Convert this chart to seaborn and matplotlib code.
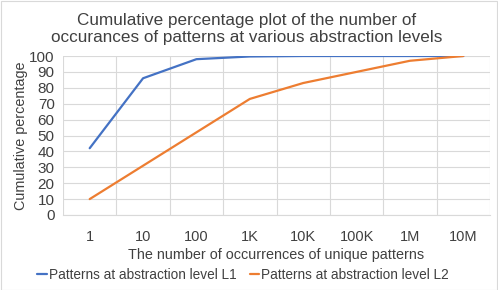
import matplotlib
matplotlib.use("Agg")
import matplotlib.pyplot as plt
import seaborn as sns
import pandas as pd
import numpy as np
from matplotlib.patches import Rectangle
from matplotlib.lines import Line2D

categories = ["1", "10", "100", "1K", "10K", "100K", "1M", "10M"]
l1_values = [42, 86, 98, 99.7, 100, 100, 100, 100]
l2_values = [10, 31, 52, 73, 83, 90, 97, 100]
series_names = ["Patterns at abstraction level L1", "Patterns at abstraction level L2"]
y_ticks = list(range(0, 101, 10))

df = pd.DataFrame({
    "pos": list(range(len(categories))) * 2,
    "value": l1_values + l2_values,
    "series": [series_names[0]] * len(categories) + [series_names[1]] * len(categories),
})

sns.set_style("white")
plt.rcParams['font.family'] = ['Liberation Sans', 'DejaVu Sans']

fig = plt.figure(figsize=(4.98, 2.90), dpi=100)
ax = fig.add_axes([63/498, 1 - 215/290, (490 - 63)/498, (215 - 56)/290])

sns.lineplot(data=df, x="pos", y="value", hue="series",
             palette=["#4472C4", "#ED7D31"], linewidth=1.6, ax=ax, legend=False,
             sort=False)

n = len(categories)
ax.set_xlim(-0.5, n - 0.5)
ax.set_ylim(0, 100)
ax.set_xticks(range(n))
ax.set_xticklabels(categories, fontsize=10.5, color="#404040")
ax.set_xticks(np.arange(-0.5, n, 1.0), minor=True)
ax.set_yticks(y_ticks)
ax.set_yticklabels([str(v) for v in y_ticks], fontsize=11, color="#404040")
ax.tick_params(axis="x", which="major", length=0, pad=11)
ax.tick_params(axis="x", which="minor", length=5, color="#d9d9d9", width=0.8)
ax.tick_params(axis="y", length=0, pad=6)
ax.grid(axis="y", which="major", color="#d9d9d9", linewidth=0.8)
ax.grid(axis="x", which="minor", color="#d9d9d9", linewidth=0.8)
ax.grid(axis="x", which="major", visible=False)
ax.set_axisbelow(True)
for s in ["top", "right", "left"]:
    ax.spines[s].set_visible(False)
ax.spines["bottom"].set_color("#d9d9d9")
ax.spines["bottom"].set_linewidth(0.8)

ax.set_xlabel("The number of occurrences of unique patterns", fontsize=10.4, color="#404040", labelpad=3)
ax.set_ylabel("Cumulative percentage", fontsize=10.4, color="#404040", labelpad=1)

fig.text(0.495, 1 - 29/290, "Cumulative percentage plot of the number of\noccurances of patterns at various abstraction levels",
         ha="center", va="center", fontsize=12.3, color="#404040", linespacing=1.2)

handles = [Line2D([], [], color="#4472C4", linewidth=1.6),
           Line2D([], [], color="#ED7D31", linewidth=1.6)]
fig.legend(handles, series_names, loc="center", bbox_to_anchor=(243/498, 1 - 275/290),
           ncol=2, frameon=False, fontsize=9.8, handlelength=0.7, handletextpad=0.15,
           columnspacing=1.0, labelcolor="#404040")

fig.patches.append(Rectangle((0.5/498, 0.5/290), 1 - 1.5/498, 1 - 1.5/290, transform=fig.transFigure,
                             fill=False, edgecolor="#d9d9d9", linewidth=0.8))

fig.savefig("out.png", dpi=100)
